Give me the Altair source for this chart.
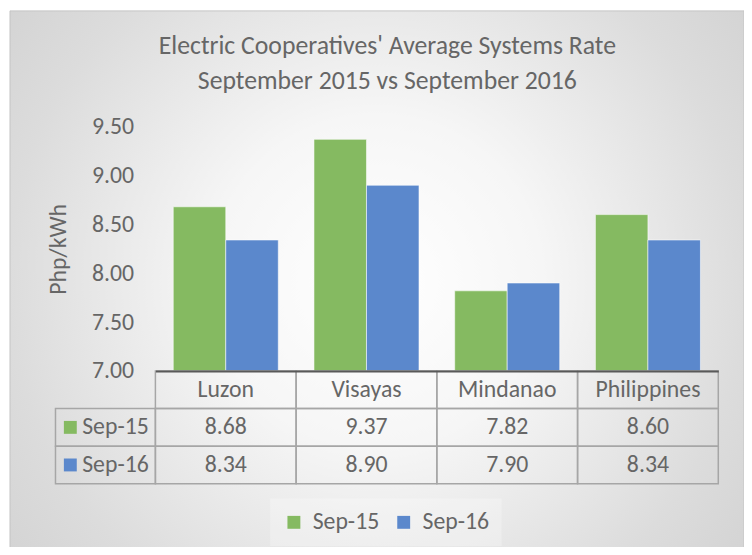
import altair as alt
import pandas as pd

# ---- data ----
categories = ["Luzon", "Visayas", "Mindanao", "Philippines"]
series = ["Sep-15", "Sep-16"]
sep15 = [8.68, 9.37, 7.82, 8.60]
sep16 = [8.34, 8.90, 7.90, 8.34]
colors = ["#85ba61", "#5b88cc"]
y_ticks = [7.0, 7.5, 8.0, 8.5, 9.0, 9.5]
title_lines = ["Electric Cooperatives' Average Systems Rate",
               "September 2015 vs September 2016"]
rows = ["header", "Sep-15", "Sep-16"]

bars_df = pd.DataFrame({
    "cat": categories * 2,
    "series": [series[0]] * 4 + [series[1]] * 4,
    "value": sep15 + sep16,
})

tbl_cat, tbl_row, tbl_label = [], [], []
for c in categories:
    tbl_cat.append(c); tbl_row.append("header"); tbl_label.append(c)
for s, vals in zip(series, [sep15, sep16]):
    for c, v in zip(categories, vals):
        tbl_cat.append(c); tbl_row.append(s); tbl_label.append(f"{v:.2f}")
table_df = pd.DataFrame({"cat": tbl_cat, "row": tbl_row, "label": tbl_label})
side_df = pd.DataFrame({"row": series, "series": series})
bg_df = pd.DataFrame({"k": [0]})

# ---- style ----
FONT = "Carlito, Lato"
TXT = "#666666"
GRID = "#a6a6a6"
W, H = 569, 247
ROW_H = 38
FS = 24

x_scale = alt.Scale(domain=categories, paddingInner=0, paddingOuter=0)
row_scale = alt.Scale(domain=rows, range=[H, H + 3 * ROW_H], paddingInner=0, paddingOuter=0)
color_scale = alt.Scale(domain=series, range=colors)

x_axis = alt.Axis(labels=False, ticks=False, title=None, grid=False,
                  domainColor="#595959", domainWidth=2, zindex=3)
legend = alt.Legend(orient="none", legendX=116, legendY=376, direction="horizontal",
                    title=None, symbolType="square", symbolSize=170, symbolStrokeWidth=0,
                    labelFont=FONT, labelFontSize=FS, labelFontWeight=300, labelColor=TXT,
                    columnPadding=12, labelOffset=7, padding=12,
                    fillColor="rgba(255,255,255,0.25)")

gradient = {
    "gradient": "radial", "x1": 0.5, "y1": 0.5, "x2": 0.5, "y2": 0.5,
    "r1": 0, "r2": 0.75,
    "stops": [
        {"offset": 0, "color": "#ffffff"},
        {"offset": 0.3, "color": "#f6f6f6"},
        {"offset": 0.67, "color": "#dcdcdc"},
        {"offset": 1, "color": "#cbcbcb"},
    ],
}

background = alt.Chart(bg_df).mark_rect(fill=gradient, stroke="#c4c4c4", strokeWidth=1).encode(
    x=alt.value(-147), x2=alt.value(595), y=alt.value(-117), y2=alt.value(430)
)

bars = alt.Chart(bars_df).mark_bar(stroke="white", strokeOpacity=0.55, strokeWidth=1).encode(
    x=alt.X("cat:N", scale=x_scale, sort=categories, axis=x_axis),
    xOffset=alt.XOffset("series:N", scale=alt.Scale(domain=series, paddingInner=0, paddingOuter=0.34)),
    y=alt.Y("value:Q", scale=alt.Scale(domain=[7, 9.5], zero=False, nice=False),
            axis=alt.Axis(orient="left", values=y_ticks, format=".2f", grid=False, ticks=False,
                          domain=False, zindex=3,
                          labelFont=FONT, labelFontSize=FS, labelFontWeight=300, labelColor=TXT,
                          labelPadding=22, title="Php/kWh", titleFont=FONT, titleFontSize=FS,
                          titleFontWeight=300, titleColor=TXT, titleX=-98, titleY=H / 2,
                          titleAngle=-90, titleBaseline="middle", titleAlign="center")),
    y2=alt.datum(7),
    color=alt.Color("series:N", scale=color_scale, legend=legend),
)

cells = alt.Chart(table_df).mark_rect(fill="transparent", stroke=GRID, strokeWidth=1.5).encode(
    x=alt.X("cat:N", scale=x_scale, sort=categories, axis=x_axis),
    y=alt.Y("row:N", scale=row_scale, sort=rows, axis=None),
)

cell_text = alt.Chart(table_df).mark_text(font=FONT, fontSize=FS, fontWeight=300, color=TXT,
                                          baseline="middle").encode(
    x=alt.X("cat:N", scale=x_scale, sort=categories, axis=x_axis),
    y=alt.Y("row:N", scale=row_scale, sort=rows, axis=None),
    text="label:N",
)

side_cells = alt.Chart(side_df).mark_rect(fill="transparent", stroke=GRID, strokeWidth=1.5).encode(
    x=alt.value(-101), x2=alt.value(0),
    y=alt.Y("row:N", scale=row_scale, sort=rows, axis=None),
)

side_text = alt.Chart(side_df).mark_text(font=FONT, fontSize=FS, fontWeight=300, color=TXT,
                                         align="left", baseline="middle").encode(
    x=alt.value(-74),
    y=alt.Y("row:N", scale=row_scale, sort=rows, axis=None),
    text="series:N",
)

side_sq = alt.Chart(side_df).mark_square(size=170, opacity=1).encode(
    x=alt.value(-86),
    y=alt.Y("row:N", scale=row_scale, sort=rows, axis=None),
    color=alt.Color("series:N", scale=color_scale, legend=legend),
)

chart = alt.layer(background, bars, cells, cell_text, side_cells, side_text, side_sq).resolve_scale(
    y="independent"
).properties(
    width=W, height=H,
    title=alt.TitleParams(text=title_lines, font=FONT, fontSize=26, fontWeight=300, color=TXT,
                          anchor="middle", frame="group", dx=-50, offset=-84, lineHeight=35),
    autosize=alt.AutoSizeParams(type="none"),
    padding={"left": 149, "top": 117, "right": 26, "bottom": 175},
).configure_view(stroke=None).configure(background="white")

chart.save("out.html", embed_options={"renderer": "svg", "actions": False})
